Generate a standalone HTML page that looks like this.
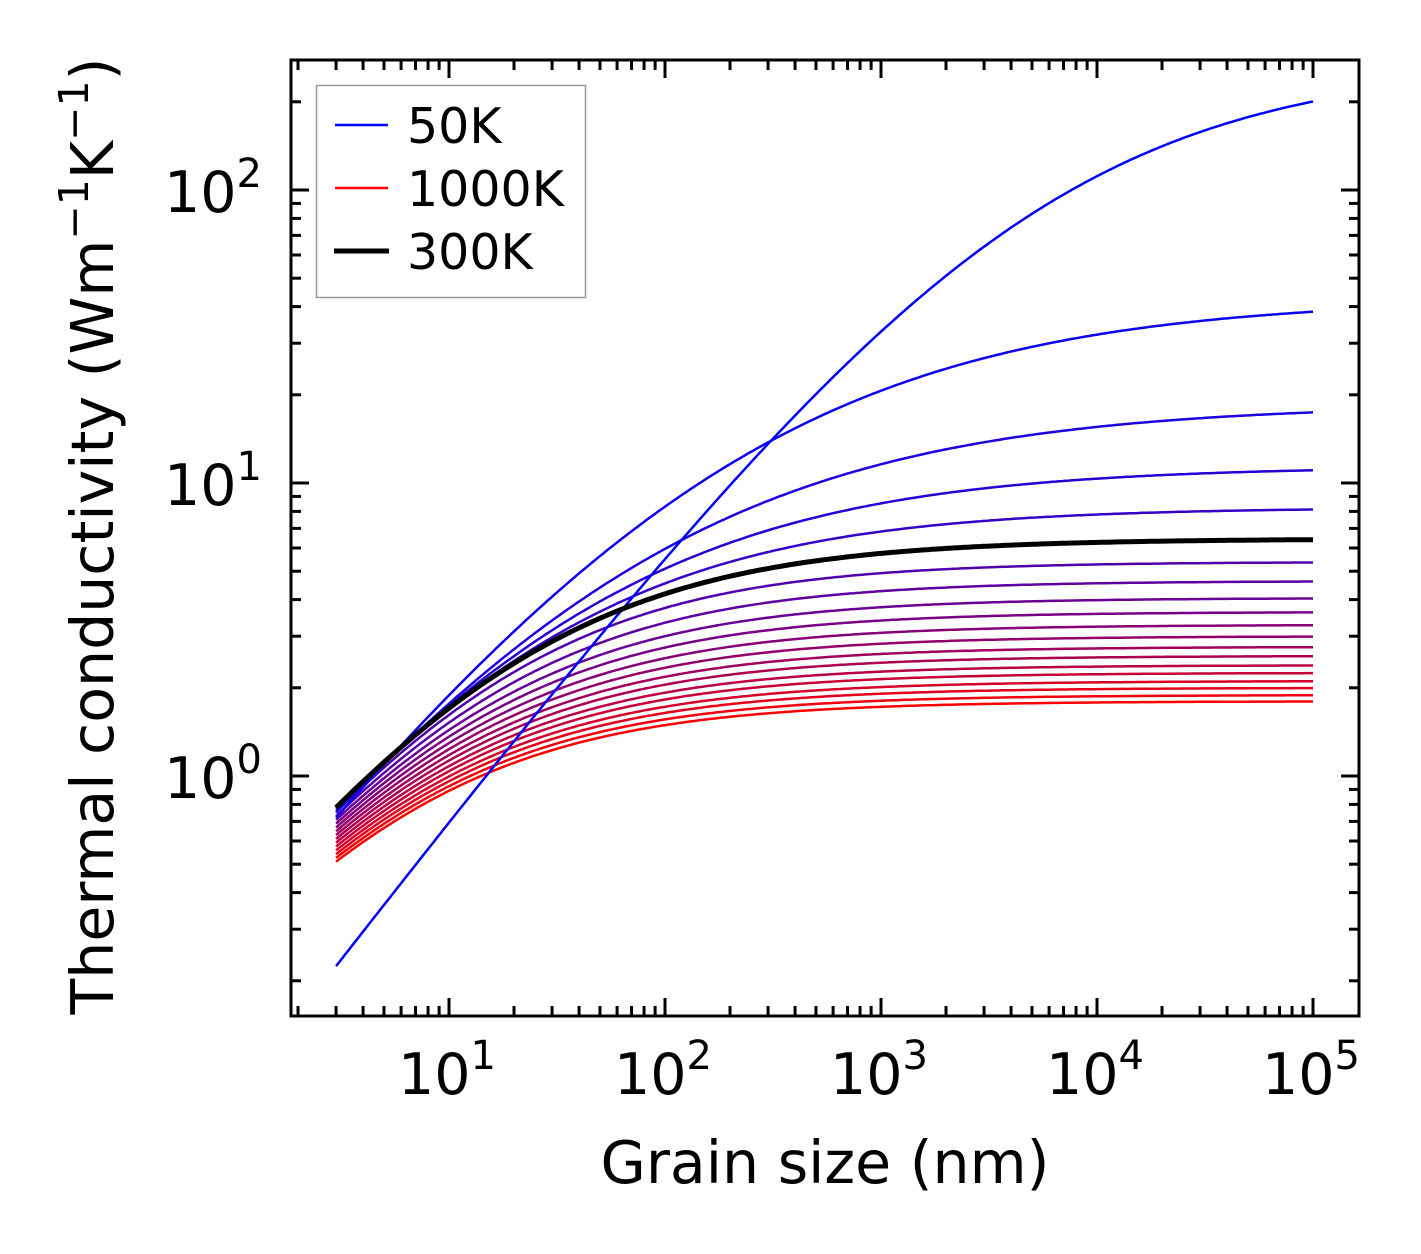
<!DOCTYPE html>
<html><head><meta charset="utf-8"><style>
html,body{margin:0;padding:0;background:#fff}
svg{display:block}
text{font-family:"DejaVu Sans","Liberation Sans",sans-serif;fill:#000}
</style></head><body>
<svg id="s" width="1421" height="1254" viewBox="0 0 1421 1254" xmlns="http://www.w3.org/2000/svg">
<rect width="1421" height="1254" fill="#fff"/>
<g id="curves"></g>
<g id="ticks" stroke="#000" stroke-width="3"></g>
<rect x="291" y="60" width="1068" height="956" fill="none" stroke="#000" stroke-width="3"/>
<g font-size="57" text-anchor="middle">
<text x="447" y="1094">10<tspan font-size="40" dy="-25">1</tspan></text>
<text x="663" y="1094">10<tspan font-size="40" dy="-25">2</tspan></text>
<text x="879" y="1094">10<tspan font-size="40" dy="-25">3</tspan></text>
<text x="1095" y="1094">10<tspan font-size="40" dy="-25">4</tspan></text>
<text x="1311" y="1094">10<tspan font-size="40" dy="-25">5</tspan></text>
</g>
<g font-size="57" text-anchor="end">
<text x="262" y="212">10<tspan font-size="40" dy="-25">2</tspan></text>
<text x="262" y="505">10<tspan font-size="40" dy="-25">1</tspan></text>
<text x="262" y="798">10<tspan font-size="40" dy="-25">0</tspan></text>
</g>
<text x="825" y="1183" font-size="58.5" text-anchor="middle">Grain size (nm)</text>
<text transform="translate(113,536) rotate(-90)" font-size="58.5" text-anchor="middle">Thermal conductivity (Wm<tspan font-size="41" dy="-25">−1</tspan><tspan dy="25">K</tspan><tspan font-size="41" dy="-25">−1</tspan><tspan dy="25">)</tspan></text>
<rect x="316.5" y="85.5" width="269" height="212" fill="#fff" stroke="#999" stroke-width="1.5"/>
<line x1="335" y1="125" x2="388" y2="125" stroke="#0000ff" stroke-width="2.5"/>
<line x1="335" y1="188" x2="388" y2="188" stroke="#ff0000" stroke-width="2.5"/>
<line x1="334" y1="251" x2="389" y2="251" stroke="#000" stroke-width="5"/>
<g font-size="49">
<text x="407" y="143">50K</text>
<text x="407" y="206">1000K</text>
<text x="407" y="269">300K</text>
</g>
</svg>
<script>
var X=function(L){return 449+216*(Math.log10(L)-1);};
var Y=function(k){return 776-293*Math.log10(k);};
var ticks=document.getElementById('ticks'),h='';
for(var d=0;d<=5;d++){for(var m=1;m<10;m++){var v=m*Math.pow(10,d);var x=X(v);if(x<292||x>1358)continue;var len=m==1?18:10;
h+='<line x1="'+x+'" y1="1016" x2="'+x+'" y2="'+(1016-len)+'"/><line x1="'+x+'" y1="60" x2="'+x+'" y2="'+(60+len)+'"/>';}}
for(var d=-1;d<=2;d++){for(var m=1;m<10;m++){var v=m*Math.pow(10,d);var y=Y(v);if(y<61||y>1015)continue;var len=m==1?18:10;
h+='<line x1="291" y1="'+y+'" x2="'+(291+len)+'" y2="'+y+'"/><line x1="1359" y1="'+y+'" x2="'+(1359-len)+'" y2="'+y+'"/>';}}
ticks.innerHTML=h;
var kb=[270,42.7,18.6,11.4,8.25,6.45,5.38,4.63,4.05,3.63,3.28,3.0,2.76,2.57,2.39,2.25,2.11,2.0,1.89,1.80];
var k3=[0.214,0.72,0.75,0.765,0.775,0.78];
var ns=[0.55,0.45,0.45,0.5,0.55,0.62];
for(var i=6;i<20;i++){k3.push(Math.exp(Math.log(0.775)+(Math.log(0.51)-Math.log(0.775))*(i-5)/14));ns.push(0.65);}
var g='',black='';
for(var i=19;i>=0;i--){var n=ns[i],Lam,mm;
if(i==0){Lam=4700;mm=0.96;}else{mm=1;var r=Math.pow(kb[i]/k3[i],n)-1;Lam=3*Math.pow(r,1/n);}
var p='';for(var j=0;j<=300;j++){var lg=Math.log10(3)+(5-Math.log10(3))*j/300;var L=Math.pow(10,lg);
var k=kb[i]/Math.pow(1+Math.pow(Lam/L,n),mm/n);p+=(j?'L':'M')+X(L).toFixed(1)+' '+Y(k).toFixed(1);}
var t=i/19;var col='rgb('+Math.round(255*t)+',0,'+Math.round(255*(1-t))+')';
if(i==5){black='<path d="'+p+'" fill="none" stroke="#000" stroke-width="5"/>';}
else g+='<path d="'+p+'" fill="none" stroke="'+col+'" stroke-width="2.5"/>';}
document.getElementById('curves').innerHTML=g+black;
</script>
</body></html>
